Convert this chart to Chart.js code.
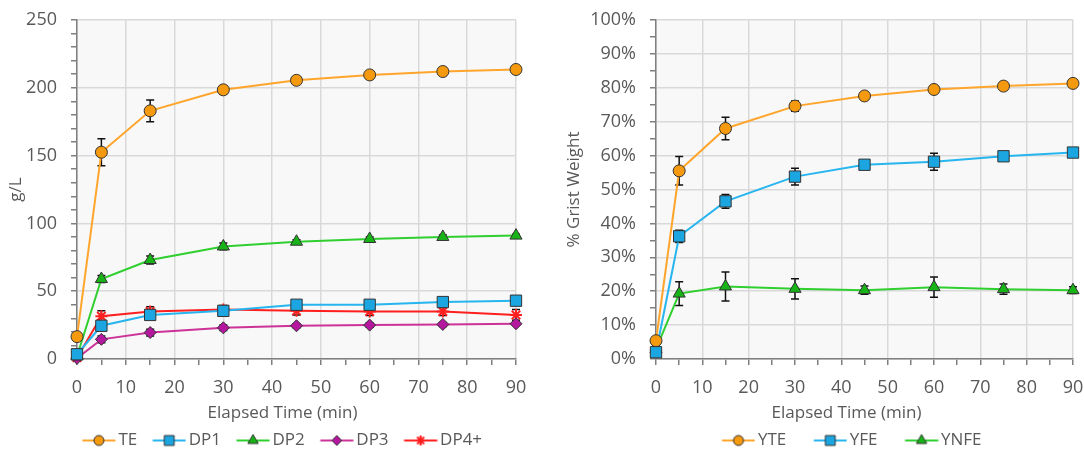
<!DOCTYPE html>
<html>
<head>
<meta charset="utf-8">
<script src="https://cdn.jsdelivr.net/npm/chart.js@4/dist/chart.umd.min.js"></script>
<style>
  body { margin: 0; background: #fff; }
  .box { position: absolute; top: 0; height: 459px; }
  #leftBox { left: 0; width: 540px; }
  #rightBox { left: 540px; width: 544px; }
</style>
</head>
<body>
<div class="box" id="leftBox"><canvas id="chartLeft"></canvas></div>
<div class="box" id="rightBox"><canvas id="chartRight"></canvas></div>
<script>
// elapsed time (min)
var times = [0, 5, 15, 30, 45, 60, 75, 90];

// left panel, g/L
var te = [16.5, 152.5, 183, 198.5, 205.5, 209.5, 212, 213.5];
var teErr = [0, 10, 8, 3, 2.5, 2, 2, 1.5];
var dp1 = [3.5, 24.5, 32.5, 35.5, 40, 40, 42, 43];
var dp1Err = [1, 2, 1.5, 2, 2, 2, 3, 3];
var dp2 = [2, 59, 73, 83, 86.5, 88.5, 90, 91];
var dp2Err = [1, 2.5, 3, 2.5, 1.5, 1.5, 1.5, 1];
var dp3 = [0.5, 14.5, 19.5, 23, 24.5, 25, 25.5, 26];
var dp3Err = [0.5, 2.5, 2.5, 2, 1.5, 1.5, 1.5, 1];
var dp4 = [1, 31.5, 35, 36.5, 35.5, 35, 35, 32.5];
var dp4Err = [0.5, 4, 3.5, 3, 3, 3, 3, 4];

// right panel, % grist weight
var yte = [5.4, 55.5, 68, 74.6, 77.6, 79.5, 80.5, 81.3];
var yteErr = [0.5, 4.2, 3.3, 1.5, 1, 1, 1, 1];
var yfe = [2, 36.2, 46.5, 53.8, 57.3, 58.2, 59.8, 60.9];
var yfeErr = [0.5, 1.8, 2, 2.5, 1, 2.5, 1, 1];
var ynfe = [2.9, 19.3, 21.4, 20.7, 20.3, 21.2, 20.6, 20.3];
var ynfeErr = [0.5, 3.5, 4.3, 3, 1.2, 3, 1.5, 1];

var FONT = "'Open Sans', 'Noto Sans', sans-serif";
var FS = 17;
var TICK_FS = 18;
var TXT = '#595959';
var GRID = '#d9d9d9';
var AXIS = '#7f7f7f';

function pts(ys) {
    return ys.map(function (v, i) { return { x: times[i], y: v }; });
}

// line+marker picture for the legend, shifted right so it sits close to its text
// w is the legend box width; the picture is w+12 wide and centred on the box
function legendIcon(w, lineColor, fill, border, style, radius) {
    var c = document.createElement('canvas');
    c.width = w + 12; c.height = 16;
    var ctx = c.getContext('2d');
    ctx.strokeStyle = lineColor;
    ctx.lineWidth = 2;
    ctx.beginPath(); ctx.moveTo(w - 21.5, 8); ctx.lineTo(w + 11.5, 8); ctx.stroke();
    ctx.fillStyle = fill;
    ctx.strokeStyle = border;
    ctx.lineWidth = style === 'star' ? 2 : 1;
    Chart.helpers.drawPoint(ctx, { pointStyle: style, radius: radius, borderWidth: ctx.lineWidth, rotation: 0 }, w - 5, 8);
    return c;
}

function series(w, label, ys, errs, line, fill, border, style, radius) {
    return {
        label: label,
        data: pts(ys),
        errors: errs,
        borderColor: line,
        borderWidth: 2,
        pointStyle: style,
        pointRadius: radius,
        pointBackgroundColor: fill,
        pointBorderColor: border,
        pointBorderWidth: style === 'star' ? 2 : 1,
        icon: legendIcon(w, line, fill, border, style, radius - 1),
        clip: false,
        tension: 0
    };
}

var bgPlugin = {
    id: 'plotBg',
    beforeDraw: function (chart) {
        var a = chart.chartArea;
        chart.ctx.save();
        chart.ctx.fillStyle = '#f8f8f8';
        chart.ctx.fillRect(a.left, a.top, a.right - a.left, a.bottom - a.top);
        chart.ctx.restore();
    }
};

var errPlugin = {
    id: 'errBars',
    beforeDatasetsDraw: function (chart) {
        var ctx = chart.ctx;
        var xs = chart.scales.x, ys = chart.scales.y;
        ctx.save();
        ctx.strokeStyle = '#111';
        ctx.lineWidth = 1.5;
        chart.data.datasets.forEach(function (ds) {
            ds.data.forEach(function (p, i) {
                var e = ds.errors[i];
                if (!e) return;
                var px = xs.getPixelForValue(p.x);
                var top = ys.getPixelForValue(p.y + e);
                var bot = ys.getPixelForValue(p.y - e);
                ctx.beginPath();
                ctx.moveTo(px, top); ctx.lineTo(px, bot);
                ctx.moveTo(px - 4, top); ctx.lineTo(px + 4, top);
                ctx.moveTo(px - 4, bot); ctx.lineTo(px + 4, bot);
                ctx.stroke();
            });
        });
        ctx.restore();
    }
};

// slide the legend and the x title sideways, as in the original
var shiftPlugin = {
    id: 'shift',
    afterLayout: function (chart, args, opts) {
        if (chart.legend) {
            chart.legend.left += opts.legendDx;
            chart.legend.right += opts.legendDx;
        }
        var s = chart.scales.x;
        if (!s._shifted) {
            var orig = s.drawTitle;
            s.drawTitle = function () {
                this.ctx.save();
                this.ctx.translate(opts.titleDx, 0);
                orig.apply(this, arguments);
                this.ctx.restore();
            };
            s._shifted = true;
        }
    }
};

function makeChart(id, datasets, cfg) {
    return new Chart(id, {
        type: 'line',
        data: { datasets: datasets },
        plugins: [bgPlugin, errPlugin, shiftPlugin],
        options: {
            responsive: true,
            maintainAspectRatio: false,
            animation: false,
            layout: { padding: { left: 0, right: cfg.rightPad, top: 20, bottom: 0 } },
            plugins: {
                tooltip: { enabled: false },
                shift: { legendDx: cfg.legendDx, titleDx: cfg.titleDx },
                legend: {
                    position: 'bottom',
                    labels: {
                        color: TXT,
                        font: { family: FONT, size: FS },
                        usePointStyle: true,
                        pointStyleWidth: cfg.boxW,
                        padding: 5,
                        generateLabels: function (chart) {
                            return chart.data.datasets.map(function (ds, i) {
                                return { text: ds.label, pointStyle: ds.icon, fontColor: TXT, datasetIndex: i, lineWidth: 0, strokeStyle: 'transparent', fillStyle: 'transparent' };
                            });
                        }
                    }
                }
            },
            scales: {
                x: {
                    type: 'linear',
                    min: 0, max: 90,
                    afterFit: function (s) { s.height = 68; s.paddingLeft = 0; s.paddingRight = 0; },
                    ticks: {
                        stepSize: 5,
                        autoSkip: false,
                        maxRotation: 0,
                        color: TXT,
                        padding: 12,
                        font: { family: FONT, size: TICK_FS },
                        callback: function (v) { return v % 10 === 0 ? String(v) : ''; }
                    },
                    grid: {
                        color: function (c) { return c.tick && c.tick.value % 10 === 0 ? GRID : 'transparent'; },
                        tickColor: AXIS,
                        tickLength: 6,
                        lineWidth: 1.5
                    },
                    border: { color: AXIS, width: 1.5 },
                    title: { display: true, text: 'Elapsed Time (min)', color: TXT, font: { family: FONT, size: FS }, padding: { top: 0, bottom: 4 } }
                },
                y: {
                    min: 0, max: cfg.yMax,
                    afterFit: function (s) { s.width = cfg.yWidth; s.paddingTop = 0; s.paddingBottom = 0; },
                    ticks: {
                        stepSize: cfg.yStep,
                        autoSkip: false,
                        color: TXT,
                        padding: 14,
                        font: { family: FONT, size: TICK_FS },
                        callback: function (v) {
                            if (v % cfg.yMajor !== 0) return '';
                            return cfg.pct ? v + '%' : String(v);
                        }
                    },
                    grid: {
                        color: function (c) { return c.tick && c.tick.value % cfg.yMajor === 0 ? GRID : 'transparent'; },
                        tickColor: AXIS,
                        tickLength: 6,
                        lineWidth: 1.5
                    },
                    border: { color: AXIS, width: 1.5 },
                    title: { display: true, text: cfg.yTitle, color: TXT, font: { family: FONT, size: FS }, padding: { top: cfg.titlePad, bottom: 0 } }
                }
            }
        }
    });
}

var ORANGE = '#ffa52c', BLUE = '#26b5ee', GREEN = '#2fcf2f', MAGENTA = '#cc3399', RED = '#ff1f1f';
var OFILL = '#f59a0e', BFILL = '#1ba6e2', GFILL = '#17b317', MFILL = '#b5179e';
var EDGE = '#333333';

var LW = 38, RW = 50;

makeChart('chartLeft', [
    series(LW, 'TE', te, teErr, ORANGE, OFILL, EDGE, 'circle', 6),
    series(LW, 'DP1', dp1, dp1Err, BLUE, BFILL, EDGE, 'rect', 8),
    series(LW, 'DP2', dp2, dp2Err, GREEN, GFILL, EDGE, 'triangle', 7),
    series(LW, 'DP3', dp3, dp3Err, MAGENTA, MFILL, EDGE, 'rectRot', 6),
    series(LW, 'DP4+', dp4, dp4Err, RED, RED, RED, 'star', 6)
], { yMax: 250, yStep: 10, yMajor: 50, yTitle: 'g/L', pct: false, yWidth: 77, titlePad: 6, rightPad: 24, boxW: LW, legendDx: 19, titleDx: -14 });

makeChart('chartRight', [
    series(RW, 'YTE', yte, yteErr, ORANGE, OFILL, EDGE, 'circle', 6),
    series(RW, 'YFE', yfe, yfeErr, BLUE, BFILL, EDGE, 'rect', 8),
    series(RW, 'YNFE', ynfe, ynfeErr, GREEN, GFILL, EDGE, 'triangle', 7)
], { yMax: 100, yStep: 5, yMajor: 10, yTitle: '% Grist Weight', pct: true, yWidth: 116, titlePad: 24, rightPad: 11, boxW: RW, legendDx: 34, titleDx: -18 });
</script>
</body>
</html>
